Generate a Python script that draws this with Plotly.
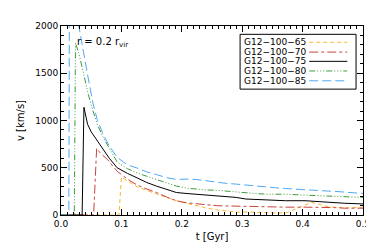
import plotly.graph_objects as go

# ---- data ----
names = ["G12\u2212100\u221265", "G12\u2212100\u221270", "G12\u2212100\u221275",
         "G12\u2212100\u221280", "G12\u2212100\u221285"]

t65 = [0, 0.096, 0.100, 0.112, 0.126, 0.142, 0.158, 0.175, 0.191, 0.207, 0.224, 0.240,
       0.257, 0.273, 0.290, 0.306, 0.320, 0.340, 0.355, 0.372, 0.383, 0.395, 0.404,
       0.415, 0.426, 0.437, 0.453, 0.470, 0.485, 0.500]
v65 = [0, 0, 400, 350, 300, 260, 220, 185, 151, 125, 99, 75,
       55, 42, 31, 31, 31, 24, 22, 21, 48, 80, 99,
       134, 117, 93, 83, 75, 78, 83]

t70 = [0, 0.054, 0.059, 0.066, 0.077, 0.093, 0.110, 0.126, 0.142, 0.158, 0.175, 0.191,
       0.207, 0.224, 0.240, 0.257, 0.273, 0.290, 0.320, 0.340, 0.372, 0.404, 0.437,
       0.453, 0.470, 0.500]
v70 = [0, 0, 704, 650, 587, 462, 380, 317, 275, 238, 190, 151,
       130, 117, 108, 99, 96, 93, 89, 89, 83, 83, 83,
       78, 72, 72]

t75 = [0, 0.035, 0.038, 0.044, 0.050, 0.060, 0.066, 0.080, 0.093, 0.110, 0.126, 0.142,
       0.158, 0.175, 0.191, 0.207, 0.224, 0.240, 0.257, 0.273, 0.290, 0.306, 0.339,
       0.372, 0.404, 0.437, 0.470, 0.500]
v75 = [0, 0, 1140, 960, 880, 790, 730, 600, 500, 440, 393, 344,
       306, 270, 238, 228, 220, 212, 203, 195, 186, 169, 158,
       151, 151, 134, 124, 117]

t80 = [0, 0.022, 0.024, 0.030, 0.038, 0.045, 0.053, 0.060, 0.070, 0.080, 0.093, 0.110,
       0.126, 0.142, 0.158, 0.175, 0.191, 0.207, 0.224, 0.240, 0.257, 0.273, 0.290,
       0.320, 0.340, 0.372, 0.404, 0.437, 0.470, 0.500]
v80 = [0, 0, 1820, 1700, 1480, 1280, 1100, 960, 820, 700, 560, 490,
       445, 410, 376, 340, 306, 285, 272, 265, 262, 252, 245,
       228, 220, 220, 210, 203, 196, 186]

t85 = [0, 0.013, 0.014, 0.029, 0.037, 0.045, 0.053, 0.060, 0.070, 0.080, 0.093, 0.110,
       0.126, 0.142, 0.158, 0.175, 0.191, 0.207, 0.224, 0.240, 0.257, 0.273, 0.290,
       0.306, 0.320, 0.340, 0.355, 0.372, 0.390, 0.404, 0.420, 0.437, 0.453, 0.470,
       0.485, 0.500]
v85 = [0, 0, 2550, 2000, 1750, 1450, 1180, 1010, 850, 730, 610, 530,
       497, 456, 428, 395, 376, 380, 376, 360, 344, 335, 327,
       317, 306, 290, 288, 280, 275, 272, 262, 255, 250, 245,
       235, 228]

ts = [t65, t70, t75, t80, t85]
vs = [v65, v70, v75, v80, v85]
colors = ["#FDB52F", "#C9433F", "#000000", "#3E9B3A", "#4FA8F5"]
dashes = ["4px,3px", "dashdot", "solid", "6px,2px,1px,2px,1px,2px,1px,2px", "9px,4px"]

x_ticks = [0.0, 0.1, 0.2, 0.3, 0.4, 0.5]
x_ticktext = ["0.0", "0.1", "0.2", "0.3", "0.4", "0.5"]
y_ticks = [0, 500, 1000, 1500, 2000]

FONT = "DejaVu Sans"
BLACK = "#000000"

fig = go.Figure()
for t, v, c, d, n in zip(ts, vs, colors, dashes, names):
    fig.add_trace(go.Scatter(x=t, y=v, mode="lines", name=n,
                             line=dict(color=c, width=1, dash=d),
                             showlegend=False, xaxis="x", yaxis="y"))

# invisible trace so the mirrored (top/right) axes get drawn with their ticks
fig.add_trace(go.Scatter(x=[x_ticks[0]], y=[y_ticks[0]], mode="lines",
                         xaxis="x2", yaxis="y2", showlegend=False,
                         hoverinfo="skip", line=dict(width=0)))

# manual legend (text left, line sample right, framed)
L_x0, L_x1, L_y0, L_y1 = 0.593, 0.977, 0.666, 0.956
fig.add_shape(type="rect", xref="paper", yref="paper",
              x0=L_x0, x1=L_x1, y0=L_y0, y1=L_y1,
              line=dict(color=BLACK, width=1), fillcolor="white", layer="above")
row_y = [0.914, 0.862, 0.813, 0.762, 0.710]
for i, (n, c, d) in enumerate(zip(names, colors, dashes)):
    fig.add_annotation(xref="paper", yref="paper", x=0.600, y=row_y[i],
                       text=n, showarrow=False, xanchor="left", yanchor="middle",
                       font=dict(family=FONT, size=9, color=BLACK))
    fig.add_shape(type="line", xref="paper", yref="paper",
                  x0=0.822, x1=0.948, y0=row_y[i], y1=row_y[i],
                  line=dict(color=c, width=1, dash=d), layer="above")

fig.add_annotation(xref="paper", yref="paper", x=0.045, y=0.912,
                   text="r = 0.2 r<sub>vir</sub>", showarrow=False,
                   xanchor="left", yanchor="middle",
                   font=dict(family=FONT, size=10, color=BLACK))

axis_common = dict(showgrid=False, zeroline=False, showline=True, linecolor=BLACK,
                   linewidth=1, ticks="inside", tickcolor=BLACK,
                   tickfont=dict(family=FONT, size=9, color=BLACK))

xminor = dict(dtick=0.01, ticklen=3, ticks="inside", tickcolor=BLACK)
yminor = dict(dtick=100, ticklen=3, ticks="inside", tickcolor=BLACK)

fig.update_layout(
    width=374, height=245,
    margin=dict(l=53, r=16, t=18, b=34),
    plot_bgcolor="white", paper_bgcolor="white",
    showlegend=False,
    xaxis=dict(range=[0, 0.5], tickvals=x_ticks, ticktext=x_ticktext, ticklen=6,
               minor=xminor,
               title=dict(text="t [Gyr]", font=dict(family=FONT, size=10, color=BLACK),
                          standoff=5),
               **axis_common),
    yaxis=dict(range=[0, 2000], tickvals=y_ticks, ticklen=6, minor=yminor,
               title=dict(text="v [km/s]", font=dict(family=FONT, size=10, color=BLACK),
                          standoff=8),
               **axis_common),
    xaxis2=dict(range=[0, 0.5], tickvals=x_ticks, ticklen=6, minor=xminor,
                overlaying="x", side="top", anchor="y", showticklabels=False,
                **axis_common),
    yaxis2=dict(range=[0, 2000], tickvals=y_ticks, ticklen=6, minor=yminor,
                overlaying="y", side="right", anchor="x", showticklabels=False,
                **axis_common),
)

fig.write_html("out.html")
